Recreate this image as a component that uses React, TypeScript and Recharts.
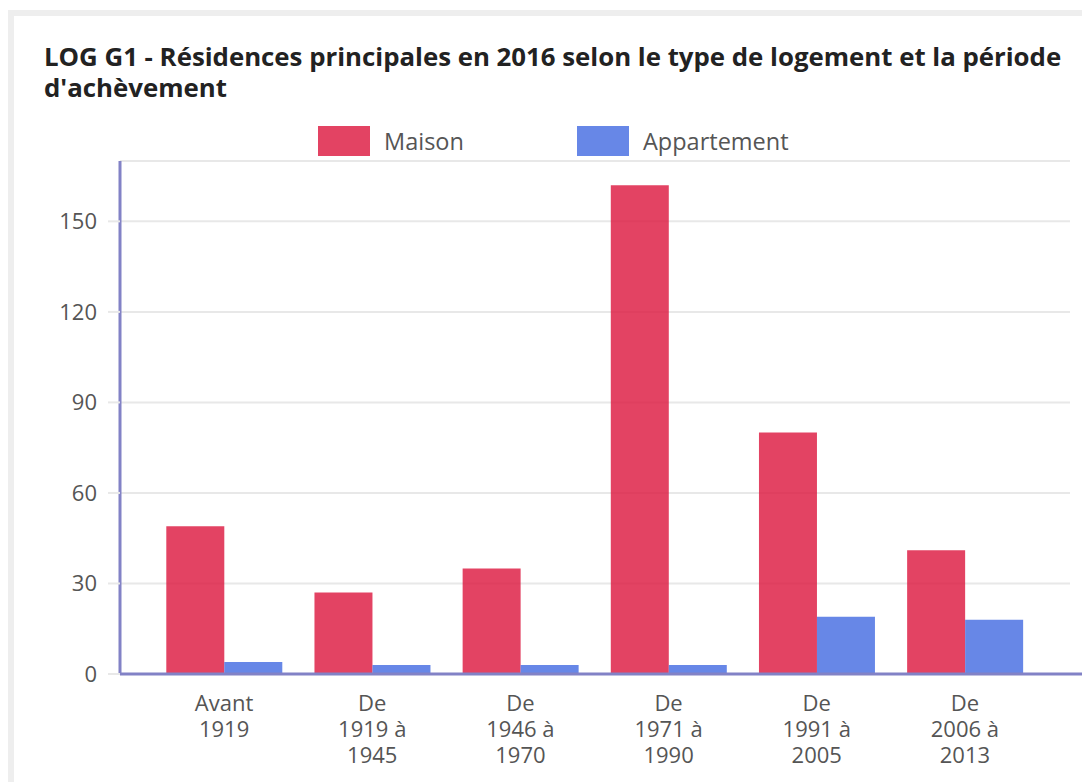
import { BarChart, Bar, XAxis, YAxis, CartesianGrid } from "recharts";

const periods = ["Avant 1919", "De 1919 à 1945", "De 1946 à 1970", "De 1971 à 1990", "De 1991 à 2005", "De 2006 à 2013"];
const periodLines = [
  ["Avant", "1919"],
  ["De", "1919 à", "1945"],
  ["De", "1946 à", "1970"],
  ["De", "1971 à", "1990"],
  ["De", "1991 à", "2005"],
  ["De", "2006 à", "2013"],
];
const maison = [49, 27, 35, 162, 80, 41];
const appartement = [4, 3, 3, 3, 19, 18];
const yTicks = [0, 30, 60, 90, 120, 150];

const data = periods.map((p, i) => ({ period: p, maison: maison[i], appartement: appartement[i] }));

const RED = "rgba(220, 20, 60, 0.8)";
const BLUE = "rgba(65, 105, 225, 0.8)";
const AXIS = "#8282c6";
const GRID = "#e8e8e8";
const FONT = "'Open Sans', sans-serif";

function PeriodTick({ x, y, index }: any) {
  const lines = periodLines[index] || [];
  return (
    <g>
      {lines.map((l, i) => (
        <text key={i} x={x} y={y + 37 + i * 26} textAnchor="middle" fill="#555" fontSize={22} fontFamily={FONT}>
          {l}
        </text>
      ))}
    </g>
  );
}

function LegendBox() {
  const items = [
    { label: "Maison", color: RED, width: 259 },
    { label: "Appartement", color: BLUE, width: 260 },
  ];
  return (
    <div style={{ display: "flex", fontFamily: FONT, fontSize: 23.5, color: "#555" }}>
      {items.map((it) => (
        <div key={it.label} style={{ display: "flex", alignItems: "center", width: it.width }}>
          <span style={{ display: "inline-block", width: 52, height: 30, background: it.color, marginRight: 14 }} />
          <span>{it.label}</span>
        </div>
      ))}
    </div>
  );
}

export default function App() {
  return (
    <div style={{ position: "relative", width: 1082, height: 782, overflow: "hidden", background: "#fff" }}>
      <style>{`body{margin:0;overflow:hidden}`}</style>
      <div
        style={{
          position: "absolute",
          left: 8,
          top: 10,
          width: 2000,
          height: 2000,
          borderLeft: "6px solid #eeeeee",
          borderTop: "6px solid #eeeeee",
        }}
      />
      <div
        style={{
          position: "absolute",
          left: 44,
          top: 41,
          fontFamily: FONT,
          fontWeight: 700,
          fontSize: 25.8,
          lineHeight: "31px",
          color: "#222",
          whiteSpace: "nowrap",
        }}
      >
        LOG G1 - Résidences principales en 2016 selon le type de logement et la période
        <br />
        d'achèvement
      </div>
      <div style={{ position: "absolute", left: 318, top: 125 }}>
        <LegendBox />
      </div>
      <div style={{ position: "absolute", left: 0, top: 0 }}>
        <BarChart
          width={1082}
          height={782}
          data={data}
          margin={{ top: 161, right: 0, bottom: 0, left: 0 }}
          barCategoryGap="11%"
          barGap={0}
        >
          <CartesianGrid
            vertical={false}
            horizontal={(props: any) => (
              <line
                key={props.key ?? `g-${props.y1}`}
                x1={props.x1}
                x2={props.x2 - 12}
                y1={props.y1}
                y2={props.y2}
                stroke={GRID}
                strokeWidth={2}
              />
            )}
          />
          <XAxis
            dataKey="period"
            padding={{ left: 30, right: 43 }}
            height={108}
            tickLine={false}
            tickSize={0}
            tickMargin={0}
            axisLine={{ stroke: AXIS, strokeWidth: 3 }}
            tick={<PeriodTick />}
            interval={0}
          />
          <YAxis
            width={120}
            domain={[0, 170]}
            ticks={yTicks}
            interval={0}
            tickSize={12}
            tickMargin={11}
            tickLine={{ stroke: GRID, strokeWidth: 2 }}
            axisLine={{ stroke: AXIS, strokeWidth: 3 }}
            tick={{ fill: "#555", fontSize: 22, fontFamily: FONT }}
          />
          <Bar dataKey="maison" name="Maison" fill={RED} isAnimationActive={false} />
          <Bar dataKey="appartement" name="Appartement" fill={BLUE} isAnimationActive={false} />
        </BarChart>
      </div>
    </div>
  );
}
